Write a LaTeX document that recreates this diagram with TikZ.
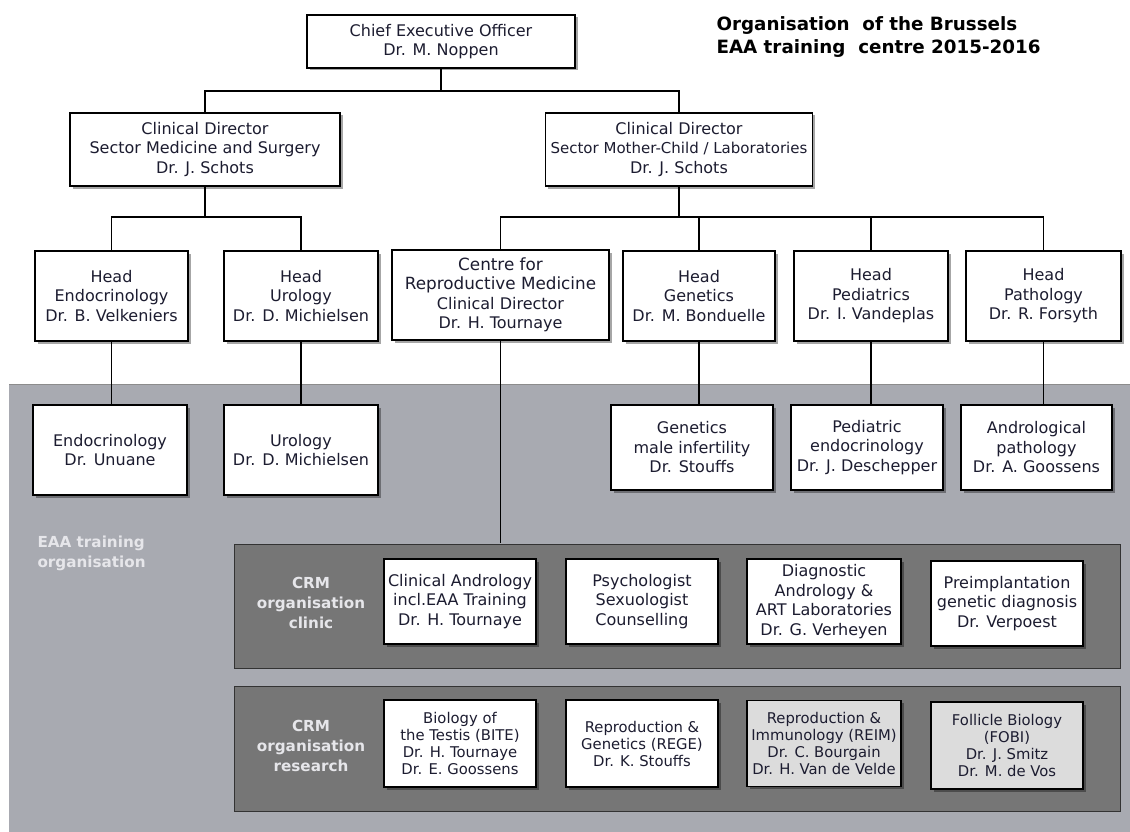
\documentclass[tikz,border=0pt]{standalone}
\usepackage{fontspec}
\setmainfont{DejaVu Sans}
\usetikzlibrary{shadows}
\definecolor{txt}{HTML}{1C1C30}
\definecolor{bg}{HTML}{A8AAB1}
\definecolor{panel}{HTML}{767676}
\definecolor{lbl}{HTML}{E6E6EA}
\definecolor{lgray}{HTML}{DCDCDC}
\newcommand{\bigln}[1]{{\fontsize{16.8}{19.5}\selectfont #1}}
\newcommand{\smln}[1]{{\fontsize{15}{19.5}\selectfont #1}}
\begin{document}
\begin{tikzpicture}[x=1pt,y=-1pt,
  box/.style={draw=black, line width=1.1pt, fill=white, align=center, inner sep=0pt,
    text=txt, font=\fontsize{16}{19.5}\selectfont,
    drop shadow={shadow xshift=2.5pt, shadow yshift=-2.5pt, opacity=0.35, fill=black}},
  rbox/.style={box, font=\fontsize{14.8}{17}\selectfont},
  pnl/.style={draw=black!80, line width=1pt, fill=panel},
  plabel/.style={text=lbl, align=center, font=\bfseries\fontsize{15.2}{20}\selectfont},
  conn/.style={draw=black, line width=1.2pt}]
\useasboundingbox (0,0) rectangle (1130,832);
\fill[white] (0,0) rectangle (1130,832);
% grey training area
\fill[bg] (9,384) rectangle (1130,832);
\draw[black!45, line width=1pt] (9,384) -- (1130,384);
\node[plabel, align=left, anchor=west] (eaa) at (34,553) {EAA training\\organisation};
% title
\node[anchor=west, align=left, text=black, font=\bfseries\fontsize{18.3}{23}\selectfont] (title) at (713,37) {Organisation\ \ of the Brussels\\EAA training\ \ centre 2015-2016};
% top level
\node[box, minimum width=268, minimum height=53] (ceo) at (441,41.5) {Chief Executive Officer\\Dr. M. Noppen};
\node[box, minimum width=270, minimum height=73] (dirL) at (205,149.5) {Clinical Director\\Sector Medicine and Surgery\\Dr. J. Schots};
\node[box, minimum width=267, minimum height=73] (dirR) at (679,149.5) {Clinical Director\\\smln{Sector Mother-Child / Laboratories}\\Dr. J. Schots};
% heads
\node[box, minimum width=153, minimum height=90] (hEndo) at (111.5,296) {Head\\Endocrinology\\Dr. B. Velkeniers};
\node[box, minimum width=154, minimum height=90] (hUro) at (301,296) {Head\\Urology\\Dr. D. Michielsen};
\node[box, minimum width=217, minimum height=90] (hCRM) at (500.5,295) {\bigln{Centre for}\\\bigln{Reproductive Medicine}\\Clinical Director\\Dr. H. Tournaye};
\node[box, minimum width=152, minimum height=90] (hGen) at (699,296) {Head\\Genetics\\Dr. M. Bonduelle};
\node[box, minimum width=154, minimum height=90] (hPed) at (871,296) {Head\\Pediatrics\\Dr. I. Vandeplas};
\node[box, minimum width=155, minimum height=90] (hPath) at (1043.5,296) {Head\\Pathology\\Dr. R. Forsyth};
% sub units
\node[box, minimum width=154, minimum height=90] (sEndo) at (110,450) {Endocrinology\\Dr. Unuane};
\node[box, minimum width=154, minimum height=90] (sUro) at (301,450) {Urology\\Dr. D. Michielsen};
\node[box, minimum width=162, minimum height=85] (sGen) at (692,447.5) {Genetics\\male infertility\\Dr. Stouffs};
\node[box, minimum width=152, minimum height=85] (sPed) at (867,447.5) {Pediatric\\endocrinology\\Dr. J. Deschepper};
\node[box, minimum width=151, minimum height=85] (sPath) at (1036.5,447.5) {Andrological\\pathology\\Dr. A. Goossens};
% panels
\draw[pnl] (234,544) rectangle (1120,668);
\node[inner sep=0pt] (clinic) at (677,544) {};
\draw[pnl] (234,686) rectangle (1120,811);
\node[plabel] (lclin) at (311,603) {CRM\\organisation\\clinic};
\node[plabel] (lres) at (311,746) {CRM\\organisation\\research};
% clinic boxes
\node[box, minimum width=152, minimum height=85] (cA) at (460,601.5) {Clinical Andrology\\incl.EAA Training\\Dr. H. Tournaye};
\node[box, minimum width=152, minimum height=85] (cP) at (642,601.5) {Psychologist\\Sexuologist\\Counselling};
\node[box, minimum width=154, minimum height=85] (cD) at (824,601.5) {Diagnostic\\Andrology \&\\ART Laboratories\\Dr. G. Verheyen};
\node[box, minimum width=152, minimum height=85] (cG) at (1007,603.5) {Preimplantation\\genetic diagnosis\\Dr. Verpoest};
% research boxes
\node[rbox, minimum width=152, minimum height=87] (rB) at (460,743.5) {Biology of\\the Testis (BITE)\\Dr. H. Tournaye\\Dr. E. Goossens};
\node[rbox, minimum width=152, minimum height=87] (rR) at (642,743.5) {Reproduction \&\\Genetics (REGE)\\Dr. K. Stouffs};
\node[rbox, fill=lgray, minimum width=154, minimum height=86] (rI) at (824,743.5) {Reproduction \&\\Immunology (REIM)\\Dr. C. Bourgain\\Dr. H. Van de Velde};
\node[rbox, fill=lgray, minimum width=152, minimum height=87] (rF) at (1007,745.5) {Follicle Biology\\(FOBI)\\Dr. J. Smitz\\Dr. M. de Vos};
% connectors
\coordinate (bus0) at (0,91);
\coordinate (busL) at (0,217);
\draw[conn] (ceo.south) -- (ceo.south |- bus0);
\draw[conn] (dirL.north) -- (dirL.north |- bus0) -- (dirR.north |- bus0) -- (dirR.north);
\draw[conn] (dirL.south) -- (dirL.south |- busL);
\draw[conn] (hEndo.north) -- (hEndo.north |- busL) -- (hUro.north |- busL) -- (hUro.north);
\draw[conn] (dirR.south) -- (dirR.south |- busL);
\draw[conn] (hCRM.north) -- (hCRM.north |- busL) -- (hPath.north |- busL) -- (hPath.north);
\draw[conn] (hGen.north) -- (hGen.north |- busL);
\draw[conn] (hPed.north) -- (hPed.north |- busL);
\draw[conn] (hEndo.south) -- (hEndo.south |- sEndo.north);
\draw[conn] (hUro.south) -- (hUro.south |- sUro.north);
\draw[conn] (hGen.south) -- (hGen.south |- sGen.north);
\draw[conn] (hPed.south) -- (hPed.south |- sPed.north);
\draw[conn] (hPath.south) -- (hPath.south |- sPath.north);
\draw[conn] (hCRM.south) -- (hCRM.south |- clinic.north);
\end{tikzpicture}
\end{document}
